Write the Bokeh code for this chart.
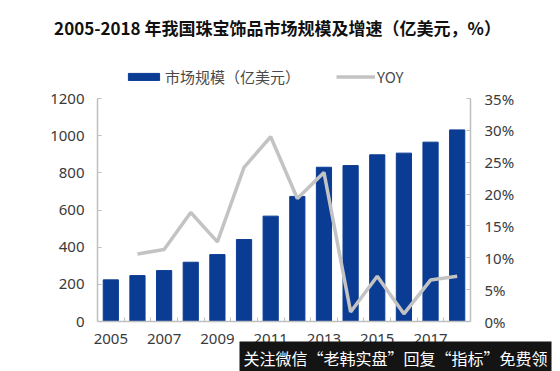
from bokeh.plotting import figure
from bokeh.models import (Range1d, LinearAxis, FixedTicker, PrintfTickFormatter,
                          Label, Legend, LegendItem)
from bokeh.embed import file_html
from bokeh.resources import INLINE

years = [2005, 2006, 2007, 2008, 2009, 2010, 2011, 2012, 2013, 2014, 2015, 2016, 2017, 2018]
market = [224, 247, 274, 319, 360, 441, 567, 673, 830, 839, 897, 906, 965, 1031]
yoy_years = [2006, 2007, 2008, 2009, 2010, 2011, 2012, 2013, 2014, 2015, 2016, 2017, 2018]
yoy = [10.6, 11.3, 17.1, 12.5, 24.2, 29.0, 19.3, 23.4, 1.5, 7.1, 1.2, 6.5, 7.1]
x_ticks = [2005, 2007, 2009, 2011, 2013, 2015, 2017]
left_ticks = [0, 200, 400, 600, 800, 1000, 1200]
right_ticks = [0, 5, 10, 15, 20, 25, 30, 35]

title_text = "2005-2018 年我国珠宝饰品市场规模及增速（亿美元，%）"
bar_name = "市场规模（亿美元）"
line_name = "YOY"
watermark = "关注微信“老韩实盘”回复“指标”免费领"

BLUE = "#0a3c93"
GREY = "#c3c3c3"
AXIS = "#bfbfbf"
TXT = "#3a3a3a"
FONT = "Noto Sans"

# layout (pixels inside the figure)
W, H = 560, 371
TOP, BOTTOM, LEFT, RIGHT = 58, 50, 97, 90
FRAME_H = H - TOP - BOTTOM
AXIS_H = 223                      # pixels from 0 to the top tick
PX_W = (W - LEFT - RIGHT) / 14.0  # pixels per category
left_max = max(left_ticks)
right_max = max(right_ticks)
y_top = left_max * FRAME_H / AXIS_H
y2_top = right_max * FRAME_H / AXIS_H
zero_px = H - BOTTOM


def ydata(py):
    return (zero_px - py) * left_max / AXIS_H


def xdata(px):
    return 2004.5 + (px - LEFT) / PX_W


p = figure(width=W, height=H, output_backend="svg", toolbar_location=None,
           x_range=Range1d(2004.5, 2018.5), y_range=Range1d(0, y_top),
           min_border_left=LEFT, min_border_right=RIGHT, min_border_top=TOP,
           min_border_bottom=BOTTOM,
           background_fill_color="white", border_fill_color="white")
p.outline_line_color = None
p.grid.visible = False
p.extra_y_ranges = {"pct": Range1d(0, y2_top)}

bars = p.vbar(x=years, top=market, width=0.57, color=BLUE)
line = p.line(x=yoy_years, y=yoy, y_range_name="pct", line_color=GREY, line_width=3.5)

minor = [y - 0.5 for y in years] + [2018.5]
xa = p.xaxis[0]
xa.ticker = FixedTicker(ticks=x_ticks, minor_ticks=minor)
ya = p.yaxis[0]
ya.ticker = FixedTicker(ticks=left_ticks)
ya.bounds = (0, left_max)

ra = LinearAxis(y_range_name="pct", ticker=FixedTicker(ticks=right_ticks),
                formatter=PrintfTickFormatter(format="%d%%"), bounds=(0, right_max))
p.add_layout(ra, "right")

for ax in (xa, ya, ra):
    ax.axis_line_color = AXIS
    ax.axis_line_width = 1.5
    ax.major_tick_line_color = AXIS
    ax.minor_tick_line_color = AXIS
    ax.major_tick_in = 4
    ax.major_tick_out = 0
    ax.minor_tick_in = 0
    ax.minor_tick_out = 0
    ax.major_label_text_font = FONT
    ax.major_label_text_font_size = "15px"
    ax.major_label_text_color = TXT
xa.major_tick_in = 0
xa.minor_tick_in = 4
xa.major_label_standoff = 12
ya.major_label_standoff = 13
ra.major_label_standoff = 14

legend = Legend(items=[LegendItem(label=bar_name, renderers=[bars]),
                       LegendItem(label=line_name, renderers=[line])],
                location=(27, 234), orientation="horizontal",
                glyph_width=39, glyph_height=9, label_height=14, label_standoff=2,
                spacing=36, padding=0, margin=0, border_line_color=None,
                background_fill_alpha=0,
                label_text_font="Noto Sans CJK SC", label_text_font_size="15px",
                label_text_color="#4a4a4a")
p.add_layout(legend, "center")

p.add_layout(Label(x=xdata(277), y=ydata(27), text=title_text,
                   text_align="center", text_baseline="middle",
                   text_font="Noto Sans CJK SC", text_font_size="17px",
                   text_font_style="bold", text_color="#111111"), "above")

p.add_layout(Label(x=xdata(239), y=ydata(357), text=watermark,
                   text_align="left", text_baseline="middle",
                   text_font="Noto Sans CJK SC", text_font_size="16px",
                   text_color="white", background_fill_color="#141414",
                   padding=4), "above")

open("out.html", "w").write(file_html(p, INLINE))
